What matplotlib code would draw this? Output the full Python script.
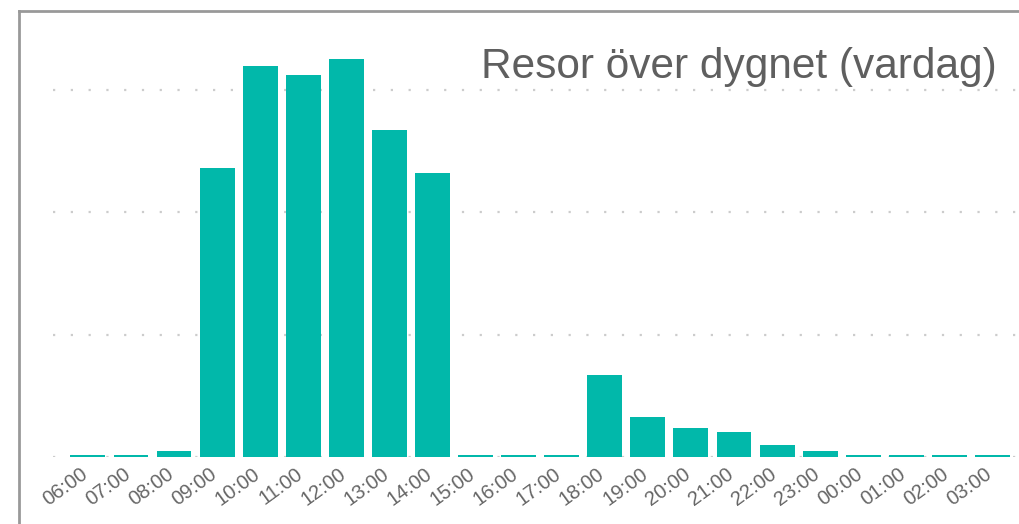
import matplotlib.pyplot as plt
import matplotlib.transforms as mtransforms
from matplotlib.lines import Line2D

plt.rcParams['font.family'] = ['Liberation Sans', 'DejaVu Sans']

# Data (weekday trips per hour)
hours = ['06:00', '07:00', '08:00', '09:00', '10:00', '11:00', '12:00', '13:00',
         '14:00', '15:00', '16:00', '17:00', '18:00', '19:00', '20:00', '21:00',
         '22:00', '23:00', '00:00', '01:00', '02:00', '03:00']
trips = [16, 16, 49, 2363, 3197, 3123, 3254, 2674,
         2322, 16, 16, 16, 670, 327, 237, 204,
         98, 49, 16, 16, 16, 16]
grid_values = [0, 1000, 2000, 3000]

teal = '#01b8aa'

fig = plt.figure(figsize=(10.2, 5.24), dpi=100)
ax = fig.add_axes([53 / 1020, 67 / 524, 1 - 53 / 1020, (457 - 20) / 524])

x = list(range(len(hours)))
ax.bar(x, trips, width=0.81, color=teal, zorder=3)

ax.set_xlim(-0.81, 21.64)
ax.set_ylim(0, 3573)
ax.set_yticks(grid_values)
ax.set_yticklabels([])
ax.tick_params(axis='y', length=0)
ax.yaxis.grid(True, color='#cccccc', linestyle=(0, (1, 7)), linewidth=1.6, zorder=0)
ax.set_xticks(x)
ax.set_xticklabels(hours, rotation=36, ha='right', va='top', rotation_mode='anchor',
                   fontsize=14.5, color='#666666')
ax.tick_params(axis='x', length=0, pad=5)

# labels sit a bit left of the bar centre; the first one is cut at the visual's edge
shift = mtransforms.ScaledTranslation(-8 / 100, 0, fig.dpi_scale_trans)
clip = mtransforms.TransformedBbox(mtransforms.Bbox([[42 / 1020, 0], [1, 1]]), fig.transFigure)
for lbl in ax.get_xticklabels():
    lbl.set_transform(lbl.get_transform() + shift)
    lbl.set_clip_box(clip)
    lbl.set_clip_on(True)
for s in ax.spines.values():
    s.set_visible(False)

fig.text(997 / 1020, 1 - 67 / 524, 'Resor över dygnet (vardag)', ha='right', va='center',
         fontsize=30.5, color='#5f5f5f')

# gray frame on the left and top edges
fig.add_artist(Line2D([19 / 1020, 19 / 1020], [0, 1 - 11 / 524], color='#999999', lw=2))
fig.add_artist(Line2D([19 / 1020, 1], [1 - 11 / 524, 1 - 11 / 524], color='#999999', lw=2))

fig.savefig('out.png', dpi=100, facecolor='white')
